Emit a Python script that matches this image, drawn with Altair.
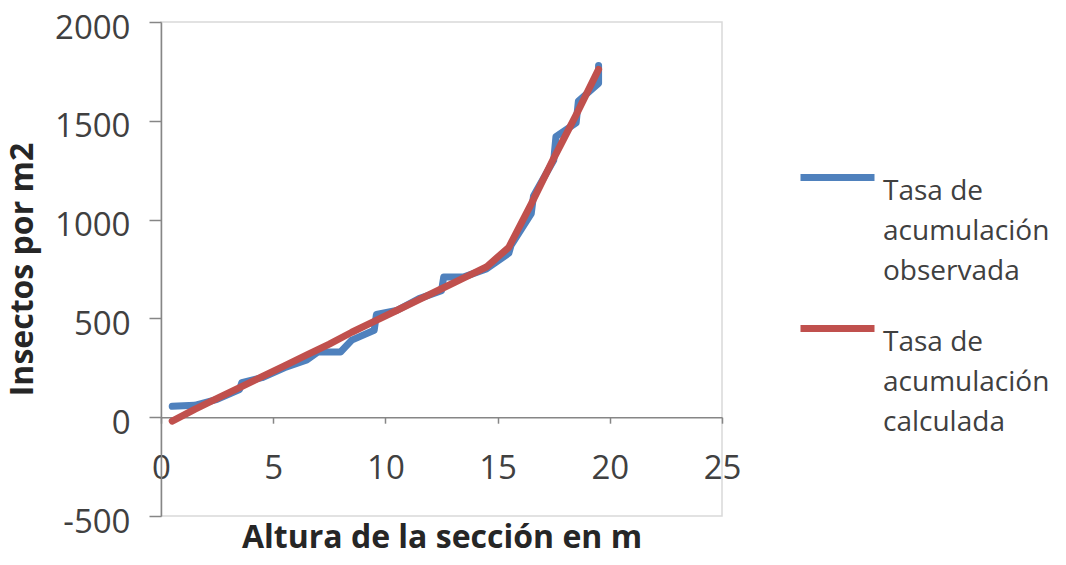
import altair as alt
import pandas as pd

# Observed accumulation rate (blue)
obs_x = [0.5, 1.5, 2.5, 3.5, 3.6, 4.5, 5.5, 6.5, 7.0, 8.0, 8.5, 9.5, 9.6, 10.5, 11.5,
         12.5, 12.6, 13.5, 14.5, 15.5, 15.6, 16.5, 16.6, 17.5, 17.6, 18.5, 18.6, 19.5, 19.5]
obs_y = [55, 60, 90, 140, 175, 200, 250, 290, 330, 330, 390, 440, 520, 540, 600,
         640, 710, 710, 750, 830, 870, 1030, 1120, 1300, 1420, 1490, 1600, 1690, 1780]

# Calculated accumulation rate (red)
calc_x = [0.5, 1.5, 2.5, 3.5, 4.5, 5.5, 6.5, 7.5, 8.5, 9.5, 10.5, 11.5, 12.5, 13.5,
          14.5, 15.5, 16.5, 17.5, 18.5, 19.5]
calc_y = [-20, 40, 95, 150, 205, 260, 315, 370, 430, 485, 540, 595, 650, 705,
          760, 860, 1080, 1310, 1530, 1760]

series = ["Tasa de acumulación observada", "Tasa de acumulación calculada"]
series_lines = [["Tasa de", "acumulación", "observada"], ["Tasa de", "acumulación", "calculada"]]
colors = ["#4F81BD", "#C0504D"]

x_ticks = [0, 5, 10, 15, 20, 25]
y_ticks = [-500, 0, 500, 1000, 1500, 2000]

obs_df = pd.DataFrame({"x": obs_x, "y": obs_y, "i": list(range(len(obs_x))), "s": series[0]})
calc_df = pd.DataFrame({"x": calc_x, "y": calc_y, "i": list(range(len(calc_x))), "s": series[1]})

W, H = 561, 494
FONT = "Open Sans"

label_expr = "datum.value == '%s' ? %s : %s" % (
    series[0],
    "[" + ",".join("'%s'" % t for t in series_lines[0]) + "]",
    "[" + ",".join("'%s'" % t for t in series_lines[1]) + "]",
)

color = alt.Color(
    "s:N",
    scale=alt.Scale(domain=series, range=colors),
    legend=alt.Legend(
        title=None,
        orient="none",
        legendX=636,
        legendY=115,
        symbolType="stroke",
        symbolSize=5476,
        symbolStrokeWidth=7,
        labelFontSize=28,
        labelFont=FONT,
        labelColor="#404040",
        labelBaseline="top",
        labelOffset=5,
        labelLimit=0,
        rowPadding=2,
        padding=0,
        labelExpr=label_expr,
    ),
)

x_enc = alt.X(
    "x:Q",
    scale=alt.Scale(domain=[0, 25], nice=False),
    axis=alt.Axis(
        title="Altura de la sección en m",
        values=x_ticks,
        offset=-(H * 500 / 2500),
        tickSize=6,
        labelPadding=29,
        labelFlush=False,
        labelExpr="toString(datum.value)",
        titleX=W / 2,
        titleY=105,
        grid=False,
    ),
)
y_enc = alt.Y(
    "y:Q",
    scale=alt.Scale(domain=[-500, 2000], nice=False),
    axis=alt.Axis(
        title="Insectos por m2",
        values=y_ticks,
        tickSize=12,
        labelPadding=19,
        labelOffset=6,
        labelFlush=False,
        labelExpr="toString(datum.value)",
        titleX=-129,
        titleY=H / 2,
        titleBaseline="alphabetic",
        grid=False,
    ),
)

base_line = dict(strokeWidth=7, strokeJoin="round", strokeCap="round")

obs = alt.Chart(obs_df).mark_line(**base_line).encode(
    x=x_enc, y=y_enc, color=color, order="i:Q"
)
calc = alt.Chart(calc_df).mark_line(**base_line).encode(
    x="x:Q", y="y:Q", color="s:N", order="i:Q"
)

chart = (
    alt.layer(obs, calc)
    .properties(
        width=W,
        height=H,
        autosize=alt.AutoSizeParams(type="none"),
        padding={"left": 153, "top": 14, "right": 336, "bottom": 38},
    )
    .configure(font=FONT, style={"guide-label": {"lineHeight": 40}})
    .configure_view(stroke="#D9D9D9", strokeWidth=1.5)
    .configure_axis(
        domainColor="#868686",
        domainWidth=1.5,
        tickColor="#868686",
        tickWidth=1.5,
        labelFontSize=33,
        labelColor="#404040",
        labelFont=FONT,
        titleFontSize=32,
        titleFont=FONT,
        titleFontWeight="bold",
        titleColor="#262626",
    )
)

chart.save("out.html", embed_options={"renderer": "svg", "actions": False})
